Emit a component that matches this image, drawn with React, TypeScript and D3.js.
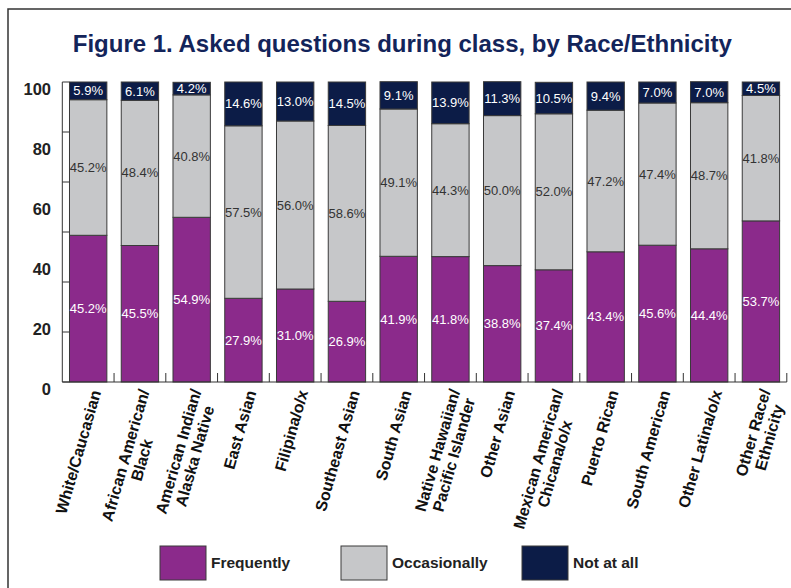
import React from "react";
import * as d3 from "d3";

const categories: string[][] = [
  ["White/Caucasian"],
  ["African American/", "Black"],
  ["American Indian/", "Alaska Native"],
  ["East Asian"],
  ["Filipina/o/x"],
  ["Southeast Asian"],
  ["South Asian"],
  ["Native Hawaiian/", "Pacific Islander"],
  ["Other Asian"],
  ["Mexican American/", "Chicana/o/x"],
  ["Puerto Rican"],
  ["South American"],
  ["Other Latina/o/x"],
  ["Other Race/", "Ethnicity"],
];

const frequently = [48.9, 45.5, 54.9, 27.9, 31.0, 26.9, 41.9, 41.8, 38.8, 37.4, 43.4, 45.6, 44.4, 53.7];
const occasionally = [45.2, 48.4, 40.8, 57.5, 56.0, 58.6, 49.1, 44.3, 50.0, 52.0, 47.2, 47.4, 48.7, 41.8];
const notAtAll = [5.9, 6.1, 4.2, 14.6, 13.0, 14.5, 9.1, 13.9, 11.3, 10.5, 9.4, 7.0, 7.0, 4.5];
// printed labels as they appear in the figure
const frequentlyLabels = ["45.2", "45.5", "54.9", "27.9", "31.0", "26.9", "41.9", "41.8", "38.8", "37.4", "43.4", "45.6", "44.4", "53.7"];

const yLabelTicks = [0, 20, 40, 60, 80, 100];
const yMarkTicks = [0, 1, 2, 3, 4, 5, 6].map((i) => (i * 100) / 6);

const seriesKeys = ["Frequently", "Occasionally", "Not at all"];
const seriesColors = ["#8B2A8B", "#C6C7C9", "#0C1C47"];
const seriesText = ["#ffffff", "#333333", "#ffffff"];

const title = "Figure 1. Asked questions during class, by Race/Ethnicity";

const W = 791;
const H = 588;
const axisX = 62.3;
const axisRight = 786.8;
const y0 = 382;
const y100 = 82;

let measureCtx: CanvasRenderingContext2D | null = null;
function measure(text: string, font: string): number {
  if (!measureCtx) {
    const c = document.createElement("canvas");
    measureCtx = c.getContext("2d");
  }
  if (!measureCtx) return text.length * 8;
  measureCtx.font = font;
  return measureCtx.measureText(text).width;
}

export default function App() {
  const x = d3
    .scaleBand<number>()
    .domain(d3.range(categories.length))
    .range([axisX, axisRight])
    .paddingInner(0.278)
    .paddingOuter(0.139);
  const y = d3.scaleLinear().domain([0, 100]).range([y0, y100]);

  const table = categories.map((_, i) => ({
    idx: i,
    Frequently: frequently[i],
    Occasionally: occasionally[i],
    "Not at all": notAtAll[i],
  }));
  const stacked = d3.stack<any>().keys(seriesKeys)(table);

  const labelFont = 'bold 16px "Liberation Sans"';
  const lh = 17;
  const angle = -74;

  const step = x.step();
  const boundaries = d3.range(1, categories.length + 1).map((k) => axisX + k * step);

  return (
    <svg
      width={W}
      height={H}
      style={{ position: "absolute", left: 0, top: 0, background: "#fff" }}
      fontFamily='"Liberation Sans", Arial, sans-serif'
    >
      <rect x={0} y={0} width={W} height={H} fill="#fff" />
      <path d={`M8,${H} V9 H${W}`} fill="none" stroke="#333" strokeWidth={1.5} />

      <text
        x={402.3}
        y={51.7}
        textAnchor="middle"
        fontSize={24}
        fontWeight="bold"
        fill="#13245A"
        textLength={659}
        lengthAdjust="spacingAndGlyphs"
      >
        {title}
      </text>

      {/* bars */}
      {stacked.map((s, si) => (
        <g key={s.key}>
          {s.map((d, i) => (
            <rect
              key={i}
              x={x(i)!}
              y={y(d[1])}
              width={x.bandwidth()}
              height={y(d[0]) - y(d[1])}
              fill={seriesColors[si]}
              stroke="#3a3a3a"
              strokeWidth={1}
            />
          ))}
        </g>
      ))}

      {/* data labels */}
      {stacked.map((s, si) => (
        <g key={"l" + s.key}>
          {s.map((d, i) => {
            const txt =
              si === 0 ? frequentlyLabels[i] + "%" : (si === 1 ? occasionally[i] : notAtAll[i]).toFixed(1) + "%";
            return (
              <text
                key={i}
                x={x(i)! + x.bandwidth() / 2}
                y={(y(d[0]) + y(d[1])) / 2}
                dy="0.35em"
                textAnchor="middle"
                fontSize={13}
                fill={seriesText[si]}
              >
                {txt}
              </text>
            );
          })}
        </g>
      ))}

      {/* y axis */}
      <line x1={axisX} x2={axisX} y1={y(0)} y2={y(100)} stroke="#333" strokeWidth={1} />
      {yMarkTicks.map((t, i) => (
        <line key={i} x1={axisX} x2={axisX + 7} y1={y(t)} y2={y(t)} stroke="#333" strokeWidth={1} />
      ))}
      {yLabelTicks.map((t) => (
        <text key={t} x={51} y={y(t) + 13} textAnchor="end" fontSize={16.5} fontWeight="bold" fill="#222">
          {t}
        </text>
      ))}

      {/* x axis */}
      <line x1={axisX} x2={axisRight} y1={y0} y2={y0} stroke="#333" strokeWidth={1} />
      {boundaries.map((bx, i) => (
        <line key={i} x1={bx} x2={bx} y1={y0} y2={y0 - 9} stroke="#333" strokeWidth={1} />
      ))}

      {/* category labels */}
      {categories.map((lines, i) => {
        const cx = x(i)! + x.bandwidth() / 2;
        const bw = Math.max(...lines.map((l) => measure(l, labelFont)));
        const n = lines.length;
        return (
          <g key={i} transform={`translate(${cx + 13},${392}) rotate(${angle})`}>
            {lines.map((l, j) => (
              <text
                key={j}
                x={-bw / 2}
                y={(j - 0.2 * (n - 1)) * lh}
                textAnchor="middle"
                fontSize={16}
                fontWeight="bold"
                fill="#111"
              >
                {l}
              </text>
            ))}
          </g>
        );
      })}

      {/* legend */}
      {seriesKeys.map((k, i) => {
        const lx = 160 + i * 181;
        return (
          <g key={k}>
            <rect x={lx} y={546} width={46} height={34} fill={seriesColors[i]} stroke="#3a3a3a" strokeWidth={1} />
            <text x={lx + 51} y={568} fontSize={15.5} fontWeight="bold" fill="#222">
              {k}
            </text>
          </g>
        );
      })}
    </svg>
  );
}
